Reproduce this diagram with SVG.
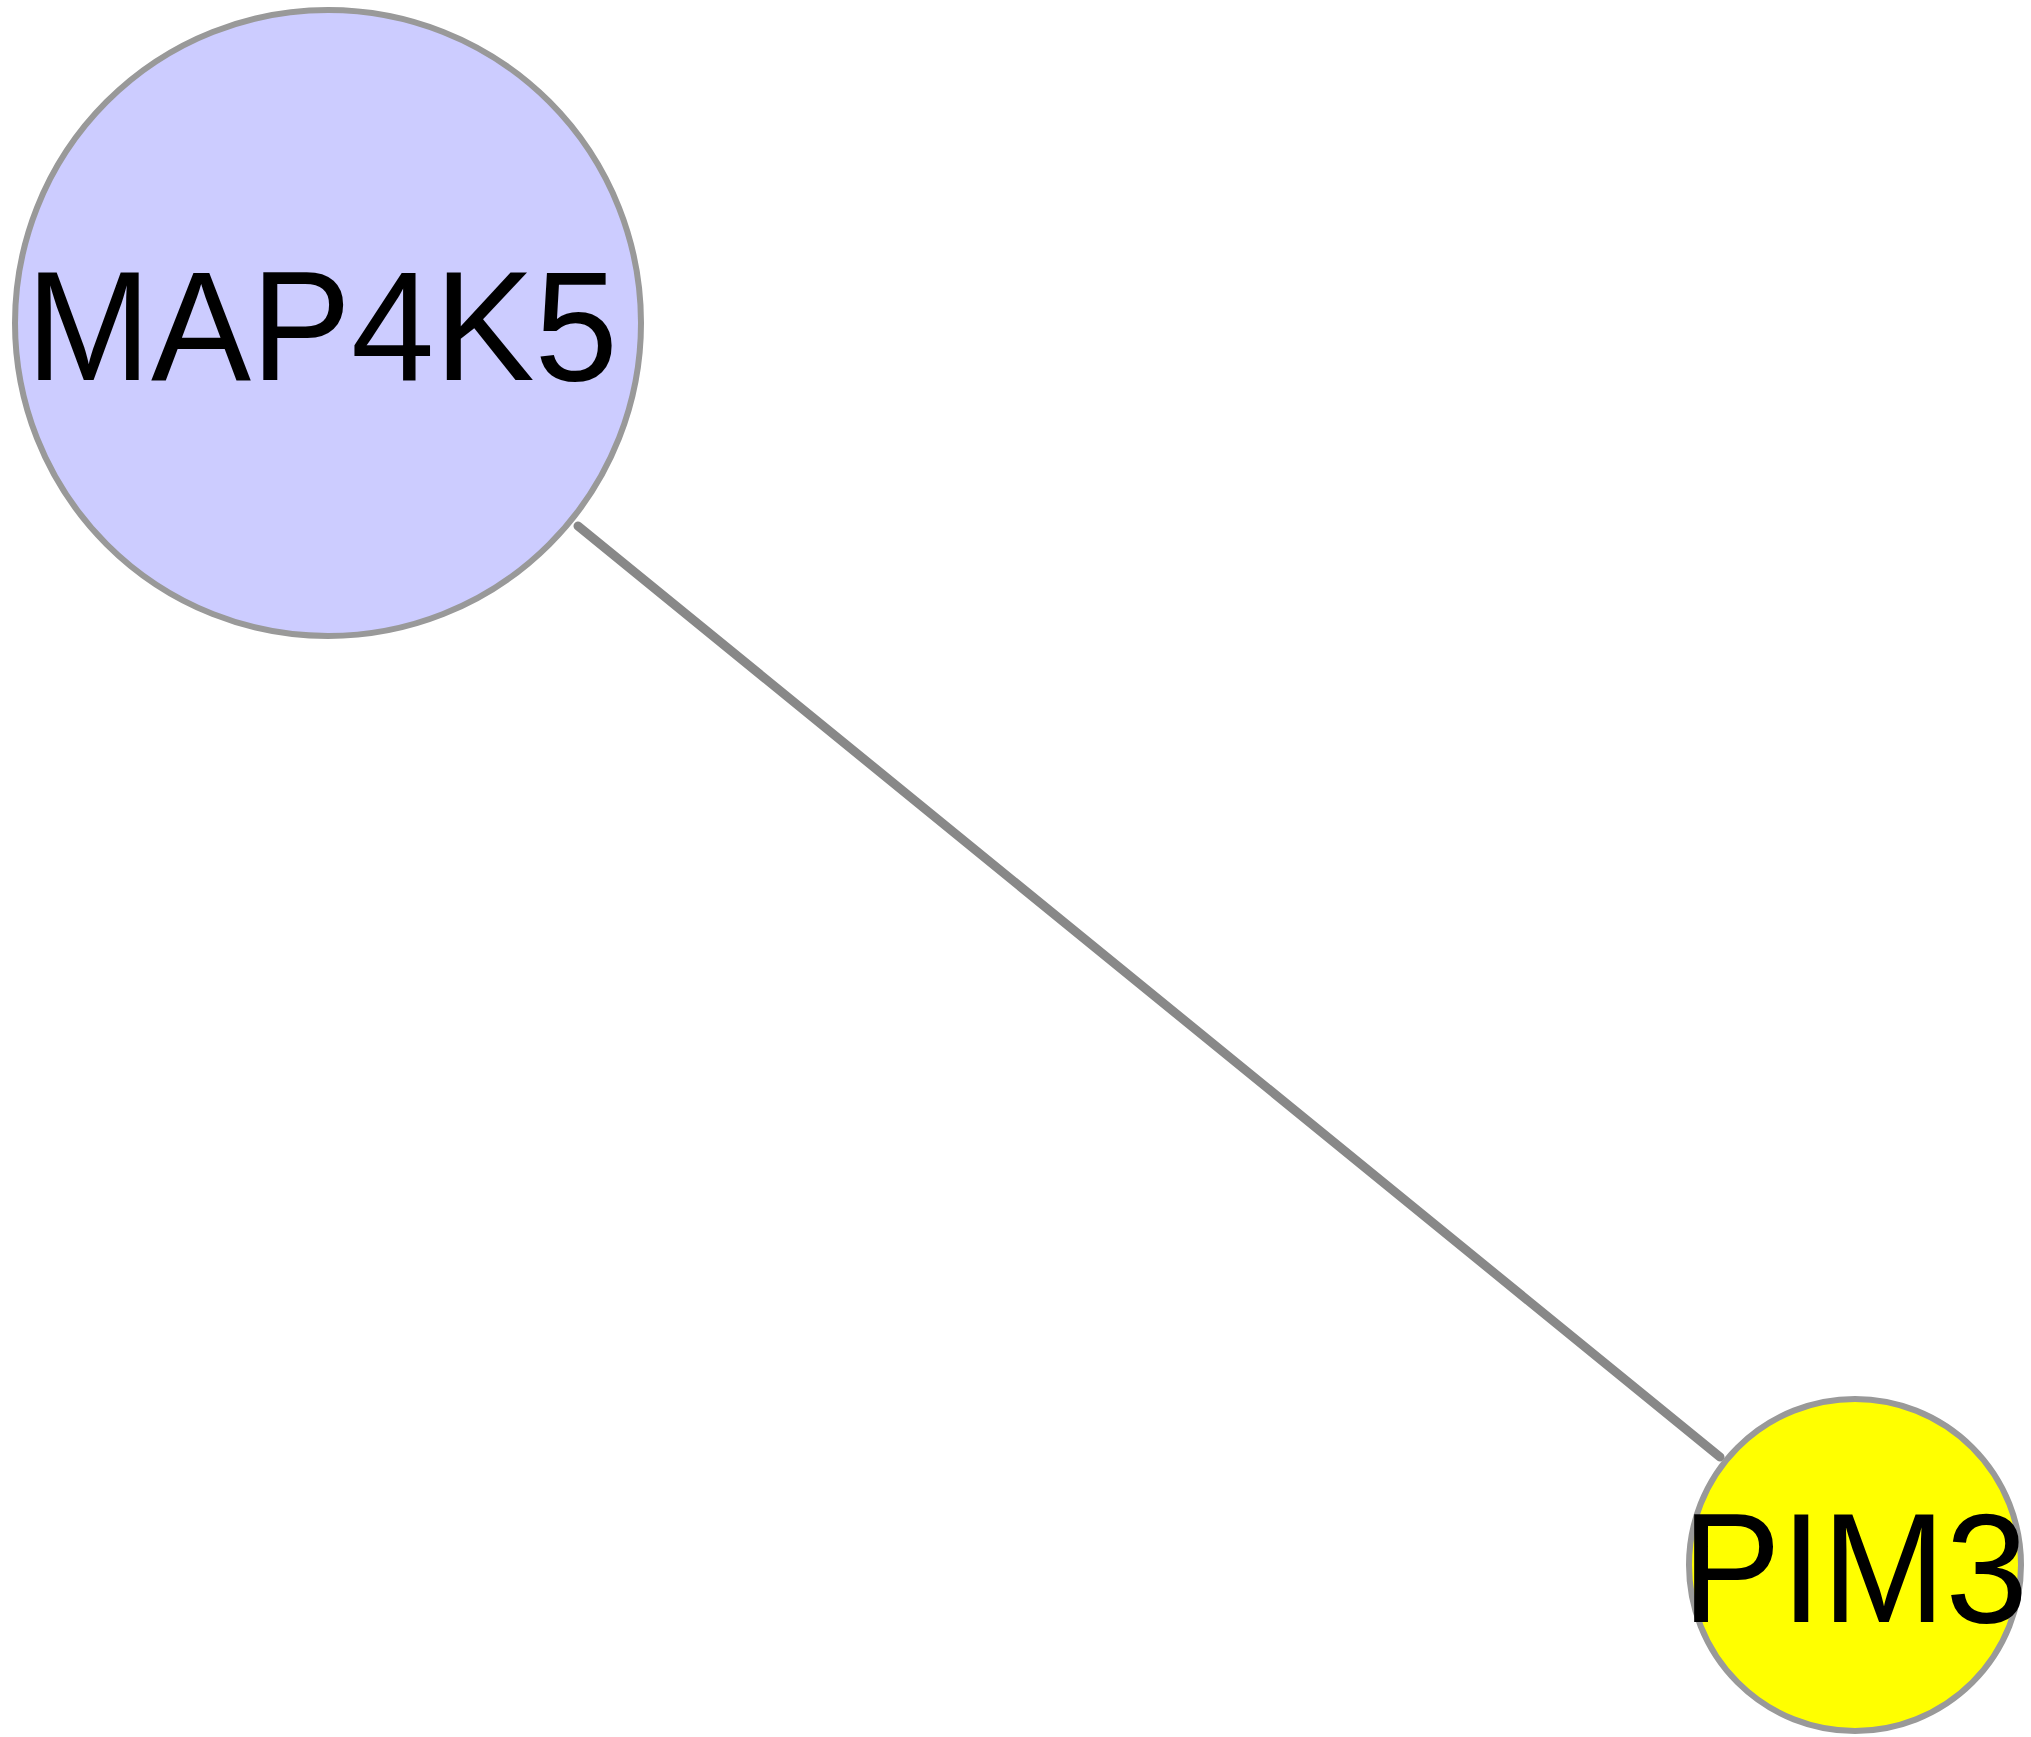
<svg xmlns="http://www.w3.org/2000/svg" width="2031" height="1737" viewBox="0 0 2031 1737">
<style>
.node{stroke:#999999;stroke-width:6}
.lbl{font-family:"Liberation Sans",Arial,sans-serif;font-size:155px;fill:#000000;text-anchor:middle}
.edge{stroke:#888888;stroke-width:9;stroke-linecap:round;fill:none}
</style>
<rect width="2031" height="1737" fill="#ffffff"/>
<g id="connectors">
<line class="edge" x1="578" y1="526" x2="1720" y2="1457"/>
</g>
<g id="MAP4K5">
<circle class="node" cx="328" cy="323" r="313" fill="#CCCCFF"/>
<text class="lbl" x="322" y="380" textLength="592" lengthAdjust="spacingAndGlyphs">MAP4K5</text>
</g>
<g id="PIM3">
<circle class="node" cx="1855" cy="1565" r="166" fill="#FFFF00"/>
<text class="lbl" x="1855" y="1622" textLength="346" lengthAdjust="spacingAndGlyphs">PIM3</text>
</g>
</svg>
